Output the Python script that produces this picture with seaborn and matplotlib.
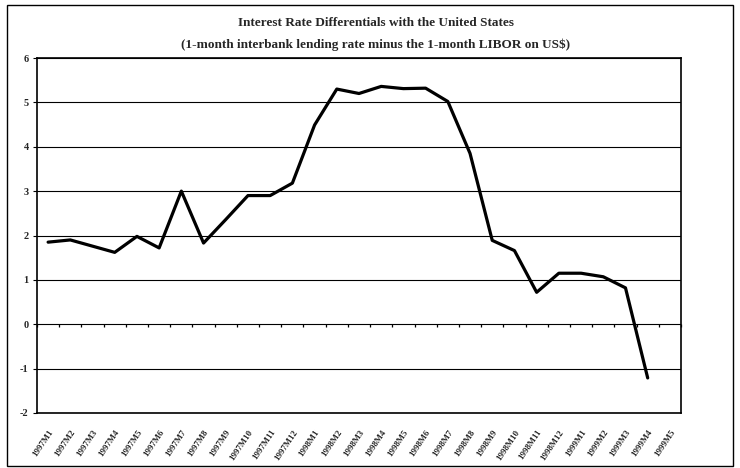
import numpy as np
import pandas as pd
import matplotlib
matplotlib.use("Agg")
import matplotlib.pyplot as plt
import seaborn as sns
from matplotlib.patches import Rectangle

months = (["1997M%d" % m for m in range(1, 13)]
          + ["1998M%d" % m for m in range(1, 13)]
          + ["1999M%d" % m for m in range(1, 6)])
differential = [1.85, 1.90, 1.76, 1.62, 1.98, 1.72, 3.00, 1.83, 2.36, 2.90,
                2.90, 3.18, 4.49, 5.30, 5.20, 5.36, 5.31, 5.32, 5.02, 3.85,
                1.89, 1.66, 0.72, 1.15, 1.15, 1.07, 0.82, -1.21, np.nan]
yticks = [-2, -1, 0, 1, 2, 3, 4, 5, 6]
title = ("Interest Rate Differentials with the United States\n"
         "(1-month interbank lending rate minus the 1-month LIBOR on US$)")

sns.set_style("white")
plt.rcParams['font.family'] = ['Liberation Serif', 'DejaVu Serif']

df = pd.DataFrame({"pos": np.arange(len(months)), "month": months,
                   "value": differential})

fig = plt.figure(figsize=(7.4, 4.68), dpi=100)
ax = fig.add_axes([37 / 740, 1 - 413 / 468, (681 - 37) / 740, (413 - 58) / 468])

sns.lineplot(data=df.dropna(), x="pos", y="value", ax=ax, color="black",
             linewidth=2.3, legend=False)

ax.set_xlim(-0.5, len(months) - 0.5)
ax.set_ylim(-2, 6)
ax.set_yticks(yticks)
ax.set_yticklabels([str(v) for v in yticks], fontsize=7.5, fontweight="bold")
ax.set_xticks(df["pos"])
ax.set_xticklabels(months, rotation=56, ha="right", va="top",
                   rotation_mode="anchor", fontsize=6.3, fontweight="bold")
ax.tick_params(axis="x", length=0, pad=11)
ax.tick_params(axis="y", length=3, width=0.8, color="black", pad=3,
               direction="out", left=True)
ax.set_xlabel("")
ax.set_ylabel("")
ax.grid(axis="y", color="black", linewidth=0.8)
ax.grid(axis="x", visible=False)
for s in ax.spines.values():
    s.set_visible(True)
    s.set_color("black")
    s.set_linewidth(1.2)

# category axis tick marks along the zero line
sec = ax.secondary_xaxis(0.25)
sec.set_xticks(np.arange(-0.5, len(months), 1.0))
sec.set_xticklabels([])
sec.tick_params(axis="x", length=2.5, width=0.9, direction="out", color="black")
sec.spines["bottom"].set_visible(False)

fig.text(0.508, 1 - 34 / 468, title, ha="center", va="center",
         fontsize=9.5, fontweight="bold", linespacing=2.0)

fig.patches.append(Rectangle((7 / 740, 1 - 466 / 468), (733 - 7) / 740,
                             (466 - 5) / 468, transform=fig.transFigure,
                             fill=False, edgecolor="black", linewidth=1.0))

fig.savefig("out.png", dpi=100)
